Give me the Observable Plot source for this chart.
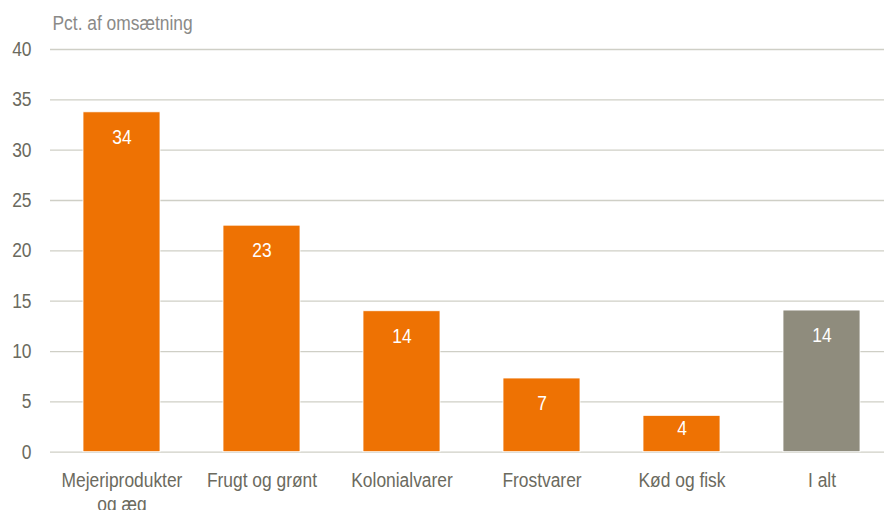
<!DOCTYPE html>
<html>
<head>
<meta charset="utf-8">
<script src="https://cdn.jsdelivr.net/npm/d3@7"></script>
<script src="https://cdn.jsdelivr.net/npm/@observablehq/plot@0.6"></script>
<style>
  html, body { margin: 0; padding: 0; background: #fff; }
  #chart svg { display: block; }
</style>
</head>
<body>
<div id="chart"></div>
<script>
const categories = ["Mejeriprodukter\nog æg", "Frugt og grønt", "Kolonialvarer", "Frostvarer", "Kød og fisk", "I alt"];
const values = [33.76, 22.5, 14.0, 7.32, 3.61, 14.07];
const labels = ["34", "23", "14", "7", "4", "14"];
const groups = ["del", "del", "del", "del", "del", "total"];
const yTicks = [0, 5, 10, 15, 20, 25, 30, 35, 40];
const title = "Pct. af omsætning";

const data = categories.map((c, i) => ({ category: c, value: values[i], label: labels[i], group: groups[i] }));

const font = "'Liberation Sans', Arial, sans-serif";
const textColor = "#6b6a5e";

const chart = Plot.plot({
  width: 884,
  height: 510,
  marginTop: 49,
  marginBottom: 58.3,
  marginLeft: 50,
  marginRight: 0,
  style: { fontFamily: font, fontSize: "20px", color: textColor, background: "#fff" },
  x: { domain: categories, range: [50.2, 893.8], paddingInner: 0.448, paddingOuter: 0.224 },
  y: { domain: [0, 40], ticks: yTicks },
  color: { domain: ["del", "total"], range: ["#ee7203", "#8f8c7d"] },
  marks: [
    Plot.ruleY(yTicks, { stroke: "#cfcfc6", strokeWidth: 1.3 }),
    Plot.barY(data, { x: "category", y: "value", fill: "group", stroke: "#fff", strokeWidth: 0.8 }),
    Plot.text(data, {
      x: "category",
      y: d => d.value - Math.min(2.48, d.value * 0.35),
      text: "label",
      fill: "#fff",
      fontSize: 20
    }),
    Plot.axisY({ ticks: yTicks, tickSize: 0, tickPadding: 19, label: null, fontSize: 20, fill: textColor }),
    Plot.axisX({ tickSize: 0, tickPadding: 18, label: null, fontSize: 20, fill: textColor, lineHeight: 1.2 }),
    Plot.text([title], { text: d => d, frameAnchor: "top-left", dx: 2, dy: -34, fontSize: 20, fill: "#8a8a88", textAnchor: "start" })
  ]
});

// condense the text horizontally (the reference uses a narrow face)
chart.querySelectorAll("text").forEach(t => {
  const tr = t.getAttribute("transform") || "";
  t.setAttribute("transform", (tr + " scale(0.87,1)").trim());
});

document.getElementById("chart").appendChild(chart);
</script>
</body>
</html>
